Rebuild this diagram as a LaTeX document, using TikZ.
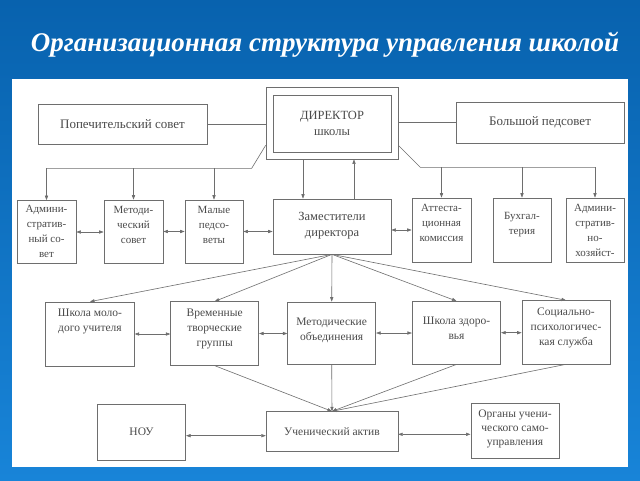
\documentclass[tikz,border=0pt]{standalone}
\usepackage{fontspec}
\setmainfont{Liberation Serif}
\usetikzlibrary{arrows.meta,positioning,calc}
\definecolor{bgtop}{HTML}{0862AE}
\definecolor{bgbot}{HTML}{1884D8}
\definecolor{linegray}{HTML}{6E6E6E}
\definecolor{txtgray}{HTML}{4A4A4A}

\begin{document}
\begin{tikzpicture}[
    x=1pt, y=-1pt, % pixel-like grid, y runs downwards
    txt/.style={align=center, text=txtgray, font=\fontsize{11}{15}\selectfont, inner sep=1pt},
    big/.style={font=\fontsize{13}{16}\selectfont},
    mid/.style={font=\fontsize{11.5}{15}\selectfont},
    box/.style={rectangle, draw=linegray, line width=0.7pt, fill=white, txt},
    boxsize/.style 2 args={minimum width=#1pt, minimum height=#2pt},
    wire/.style={draw=linegray, line width=0.6pt},
    connector/.style={->, wire, >={Triangle[length=4.5pt,width=3.2pt]}},
    both/.style={connector, <->}
]
    \useasboundingbox (0,0) rectangle (640,480);
    \shade[top color=bgtop, bottom color=bgbot] (0,0) rectangle (640,480);
    \fill[white] (12,79) rectangle (628,467);

    % Title
    \node[text=white, font=\fontsize{27}{32}\selectfont\bfseries\itshape] (title) at (325,45)
        {Организационная структура управления школой};

    % Top row
    \node[box, boxsize={132}{72}] (dir) at (332,123) {};
    \node[box, boxsize={118}{57}, font=\fontsize{12.5}{16}\selectfont] (dirin) at (332,123.5) {ДИРЕКТОР\\школы};
    \node[box, big, boxsize={169}{40}] (pop) at (122.5,124) {Попечительский совет};
    \node[box, big, boxsize={168}{41}] (bps) at (540,122.5) {Большой педсовет};

    % Second row
    \node[box, boxsize={59}{63}] (adm) at (46.5,232) {};
    \node[box, boxsize={59}{63}] (met) at (133.5,231.5) {};
    \node[box, boxsize={58}{63}] (mal) at (214,231.5) {};
    \node[box, boxsize={118}{55}] (zam) at (332,226.5) {};
    \node[box, boxsize={59}{64}] (att) at (441.5,230) {};
    \node[box, boxsize={58}{64}] (buh) at (522,230) {};
    \node[box, boxsize={58}{64}] (ahz) at (595,230) {};

    \node[txt, below=4pt of adm.north] (tadm) {Админи-\\стратив-\\ный со-\\вет};
    \node[txt, below=5pt of met.north] (tmet) {Методи-\\ческий\\совет};
    \node[txt, below=5pt of mal.north] (tmal) {Малые\\педсо-\\веты};
    \node[txt, below=12pt of zam.north, font=\fontsize{12.5}{16}\selectfont] (tzam) {Заместители\\директора};
    \node[txt, below=5pt of att.north] (tatt) {Аттеста-\\ционная\\комиссия};
    \node[txt, below=13pt of buh.north] (tbuh) {Бухгал-\\терия};
    \node[txt, below=5pt of ahz.north] (tahz) {Админи-\\стратив-\\но-\\хозяйст-};

    % Third row
    \node[box, boxsize={88.6}{64}] (smu) at (90,334) {};
    \node[box, boxsize={88}{63.6}] (vtg) at (214.7,333.5) {};
    \node[box, boxsize={88}{62}] (mo) at (331.7,333) {};
    \node[box, boxsize={88.4}{62.7}] (shz) at (456.5,332.7) {};
    \node[box, boxsize={88}{63.3}] (sps) at (566,332.3) {};

    \node[txt, mid, below=6pt of smu.north] (tsmu) {Школа моло-\\дого учителя};
    \node[txt, mid, below=6pt of vtg.north] (tvtg) {Временные\\творческие\\группы};
    \node[txt, mid, below=15pt of mo.north] (tmo) {Методические\\объединения};
    \node[txt, mid, below=15pt of shz.north] (tshz) {Школа здоро-\\вья};
    \node[txt, mid, below=6pt of sps.north] (tsps) {Социально-\\психологичес-\\кая служба};

    % Bottom row
    \node[box, mid, boxsize={88.4}{55.7}] (nou) at (141.5,432) {НОУ};
    \node[box, mid, boxsize={131.7}{39.3}] (uak) at (332,431.3) {Ученический актив};
    \node[box, boxsize={88.3}{55}] (org) at (515,430.8) {};
    \node[txt, below=6pt of org.north, font=\fontsize{11.5}{14}\selectfont] (torg) {Органы учени-\\ческого само-\\управления};

    % Connections
    \draw[wire] (pop.east) -- (pop.east -| dir.west);
    \draw[wire] (dir.east |- bps.west) -- (bps.west);
    \draw[wire] ([yshift=14pt]dir.south west) -- ++(-14,23) coordinate (lbus) -- (lbus -| adm.north);
    \draw[wire] ([yshift=14pt]dir.south east) -- ++(22,22) coordinate (rbus) -- (rbus -| ahz.north);
    \foreach \n in {adm,met,mal}
        \draw[connector] (lbus -| \n.north) -- (\n.north);
    \foreach \n in {att,buh,ahz}
        \draw[connector] (rbus -| \n.north) -- (\n.north);
    \draw[connector] ([xshift=-29pt]dir.south) -- ([xshift=-29pt]zam.north);
    \draw[connector] ([xshift=22pt]zam.north) -- ([xshift=22pt]dir.south);

    \foreach \a/\b in {adm/met, met/mal, mal/zam}
        \draw[both] (\a.east) -- (\a.east -| \b.west);
    \draw[both] (zam.east |- att.west) -- (att.west);

    \foreach \n in {smu,vtg,mo,shz,sps}
        \draw[connector] (zam.south) -- (\n.north);
    \foreach \a/\b in {smu/vtg, vtg/mo, mo/shz, shz/sps}
        \draw[both] (\a.east) -- (\a.east -| \b.west);

    \foreach \n in {vtg,mo,shz,sps}
        \draw[connector] (\n.south) -- (uak.north);
    \draw[both] (nou.east) ++(0,3.7) coordinate (n1) -- (n1 -| uak.west);
    \draw[both] (uak.east) ++(0,3) coordinate (n2) -- (n2 -| org.west);
\end{tikzpicture}
\end{document}
